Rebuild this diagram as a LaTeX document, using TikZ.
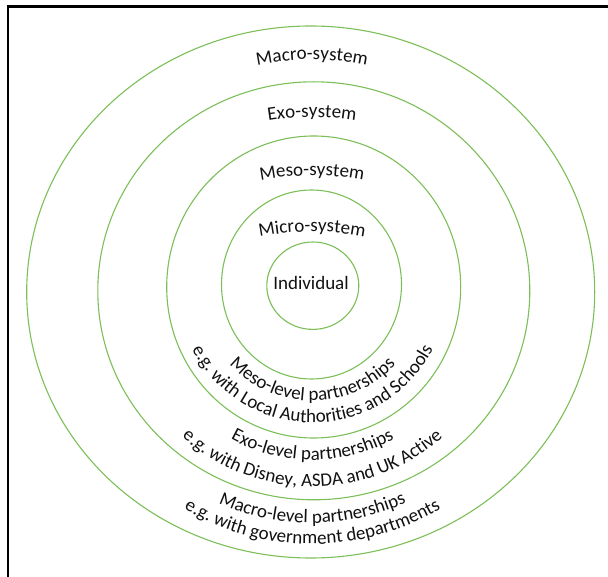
\documentclass[tikz,border=0pt]{standalone}
\usepackage{fontspec}
\setmainfont{Carlito}
\usetikzlibrary{decorations.text}
\definecolor{ringgreen}{HTML}{7CBE58}
\definecolor{inktext}{HTML}{111111}
\newcommand\ringfont{\fontsize{19}{23}\selectfont}
\tikzset{
  ring/.style={draw=ringgreen, line width=1.1pt},
  frameline/.style={draw=black, line width=2.6pt, line join=miter},
  arctext/.style={decorate, decoration={text along path, text align=center,
      text color=inktext, text={|\ringfont|#1}}},
}
\begin{document}
\begin{tikzpicture}[x=1pt, y=1pt]
  \useasboundingbox (0,0) rectangle (608,576);
  % frame (top and left edges)
  \coordinate (fbl) at (8,-2);
  \coordinate (ftl) at (8,569.5);
  \coordinate (ftr) at (610,569.5);
  \draw[frameline] (fbl) -- (ftl) -- (ftr);

  % nested system rings
  \coordinate (cmacro) at (310.7,284);
  \coordinate (cexo) at (313.8,285.2);
  \coordinate (cmeso) at (313.7,289);
  \coordinate (cmicro) at (311.5,291.5);
  \coordinate (cindiv) at (312.8,290.3);
  \draw[ring] (cmacro) ellipse [x radius=284, y radius=266];
  \draw[ring] (cexo) ellipse [x radius=216, y radius=209];
  \draw[ring] (cmeso) ellipse [x radius=147, y radius=151];
  \draw[ring] (cmicro) ellipse [x radius=90, y radius=94.5];
  \draw[ring] (cindiv) ellipse [x radius=46, y radius=43.7];

  \node[font=\ringfont, text=inktext, anchor=base, inner sep=0pt] (indiv) at (311,286.7) {Individual};

  % system names, gently arched along the top
  \path[arctext={Macro-system}] (312,246.4) ++(120:270) arc[start angle=120, end angle=60, radius=270];
  \path[arctext={Exo-system}] (312,189) ++(120:270) arc[start angle=120, end angle=60, radius=270];
  \path[arctext={Meso-system}] (312,130.4) ++(120:270) arc[start angle=120, end angle=60, radius=270];
  \path[arctext={Micro-system}] (312,74.4) ++(120:270) arc[start angle=120, end angle=60, radius=270];

  % partnership labels, curved along the bottom of each ring
  \coordinate (bmeso) at (312.5,289);
  \coordinate (bexo) at (312.5,285);
  \coordinate (bmacro) at (312.5,284);
  \path[arctext={Meso-level partnerships}] (bmeso) ++(190:113.7) arc[start angle=190, end angle=350, radius=113.7];
  \path[arctext={e.g. with Local Authorities and Schools}] (bmeso) ++(190:135.7) arc[start angle=190, end angle=350, radius=135.7];
  \path[arctext={Exo-level partnerships}] (bexo) ++(190:169) arc[start angle=190, end angle=350, radius=169];
  \path[arctext={e.g. with Disney, ASDA and UK Active}] (bexo) ++(190:195.7) arc[start angle=190, end angle=350, radius=195.7];
  \path[arctext={Macro-level partnerships}] (bmacro) ++(190:231) arc[start angle=190, end angle=350, radius=231];
  \path[arctext={e.g. with government departments}] (bmacro) ++(190:252) arc[start angle=190, end angle=350, radius=252];
\end{tikzpicture}
\end{document}
